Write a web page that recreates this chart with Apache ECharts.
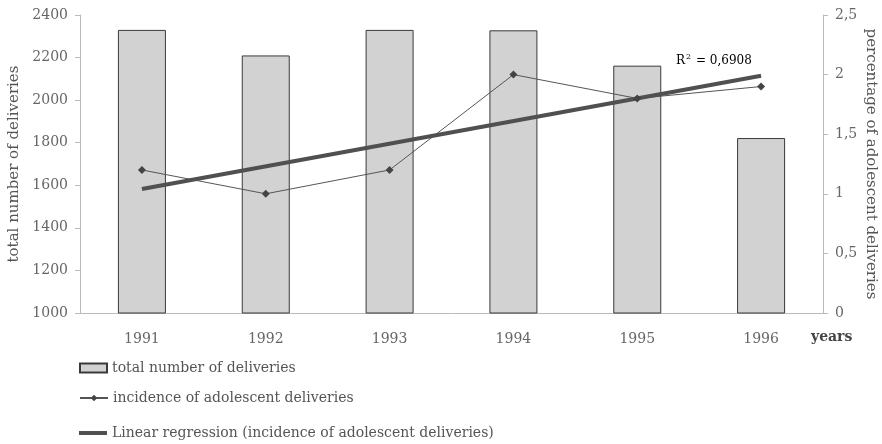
<!DOCTYPE html>
<html>
<head>
<meta charset="utf-8">
<script src="https://cdn.jsdelivr.net/npm/echarts@6/dist/echarts.min.js"></script>
<style>html,body{margin:0;padding:0;background:#fff}#c{width:882px;height:444px}</style>
</head>
<body>
<div id="c"></div>
<script>
const years = ['1991','1992','1993','1994','1995','1996'];
const totalDeliveries = [2330, 2210, 2330, 2328, 2162, 1822];
const adolescentPct = [1.2, 1.0, 1.2, 2.0, 1.8, 1.9];
const regressionPct = [1.04, null, null, null, null, 1.99];
const leftTicks = {min: 1000, max: 2400, interval: 200};
const rightTicks = {min: 0, max: 2.5, interval: 0.5};
const r2Text = '0,6908';

const S1 = 'total number of deliveries';
const S2 = 'incidence of adolescent deliveries';
const S3 = 'Linear regression (incidence of adolescent deliveries)';

const font = 'DejaVu Serif, serif';
const legendText = {fontFamily: font, fontSize: 14, color: '#555'};
const chart = echarts.init(document.getElementById('c'), null, {renderer: 'canvas'});
chart.setOption({
  animation: false,
  textStyle: {fontFamily: font},
  grid: {left: 80, right: 59, top: 15, bottom: 131, containLabel: false, outerBoundsMode: 'none'},
  legend: [
    {data: [S1], left: 79, top: 361, itemWidth: 27, itemHeight: 9, itemGap: 4,
     icon: 'rect', textStyle: legendText, padding: 0},
    {data: [S2], left: 79, top: 391, itemWidth: 28, itemHeight: 8, itemGap: 4,
     textStyle: legendText, padding: 0},
    {data: [S3], left: 79, top: 426, itemWidth: 28, itemHeight: 4, itemGap: 4,
     icon: 'rect', textStyle: legendText, padding: 0}
  ],
  xAxis: {
    type: 'category', data: years,
    name: 'years', nameLocation: 'end', nameGap: -12,
    nameTextStyle: {fontFamily: font, fontSize: 14, fontWeight: 'bold', color: '#444', verticalAlign: 'top', padding: [17, 0, 0, 0]},
    axisLine: {lineStyle: {color: '#bbb'}},
    axisTick: {length: 4, lineStyle: {color: '#bbb'}},
    axisLabel: {fontFamily: font, fontSize: 14, color: '#666', margin: 19}
  },
  yAxis: [
    {
      type: 'value', position: 'left', min: leftTicks.min, max: leftTicks.max, interval: leftTicks.interval,
      name: S1, nameLocation: 'middle', nameGap: 58,
      nameTextStyle: {fontFamily: font, fontSize: 15, color: '#555'},
      axisLine: {show: true, lineStyle: {color: '#bbb'}},
      axisTick: {show: true, length: 5, lineStyle: {color: '#bbb'}},
      axisLabel: {fontFamily: font, fontSize: 14, color: '#666', margin: 12, formatter: v => String(v)},
      splitLine: {show: false}
    },
    {
      type: 'value', position: 'right', min: rightTicks.min, max: rightTicks.max, interval: rightTicks.interval,
      name: 'percentage of adolescent deliveries', nameLocation: 'middle', nameGap: 40, nameRotate: -90,
      nameMoveOverlap: false,
      nameTextStyle: {fontFamily: font, fontSize: 15, color: '#555'},
      axisLine: {show: true, lineStyle: {color: '#bbb'}},
      axisTick: {show: true, length: 5, lineStyle: {color: '#bbb'}},
      axisLabel: {fontFamily: font, fontSize: 14, color: '#666', margin: 12,
        formatter: v => String(v).replace('.', ',')},
      splitLine: {show: false}
    }
  ],
  series: [
    {
      name: S1, type: 'bar', yAxisIndex: 0, barWidth: 48,
      data: totalDeliveries,
      itemStyle: {color: '#d2d2d2', borderColor: '#3a3a3a', borderWidth: 1}
    },
    {
      name: S2, type: 'line', yAxisIndex: 1,
      data: adolescentPct, symbol: 'diamond', symbolSize: 8,
      lineStyle: {color: '#555', width: 1}, itemStyle: {color: '#444'}
    },
    {
      name: S3, type: 'line', yAxisIndex: 1,
      data: regressionPct, connectNulls: true, symbol: 'none',
      lineStyle: {color: '#505050', width: 4}, itemStyle: {color: '#505050'}
    }
  ],
  graphic: [{
    type: 'text', left: 676, top: 53,
    style: {
      text: '{a|R}{s|2}{a| = ' + r2Text + '}',
      rich: {
        a: {fontFamily: font, fontSize: 12, color: '#666'},
        s: {fontFamily: font, fontSize: 8, color: '#666', verticalAlign: 'top', padding: [0, 1, 8, 1]}
      }
    }
  }]
});
</script>
</body>
</html>
